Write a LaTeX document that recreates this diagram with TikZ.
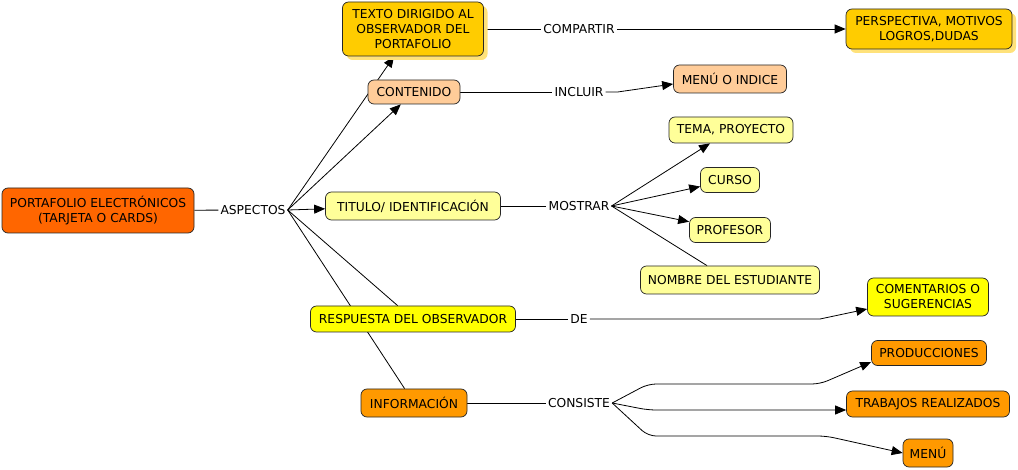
\documentclass[tikz,border=0pt]{standalone}
\usepackage{fontspec}
\setmainfont{DejaVu Sans}
\usetikzlibrary{arrows.meta,shadows,backgrounds}
\definecolor{rojizo}{HTML}{FF6600}
\definecolor{dorado}{HTML}{FFCC00}
\definecolor{durazno}{HTML}{FFCC99}
\definecolor{crema}{HTML}{FFFF99}
\definecolor{amarillo}{HTML}{FFFF00}
\definecolor{naranja}{HTML}{FF9900}
\definecolor{sombra}{HTML}{FFE27A}
\tikzset{
  concepto/.style={draw=black!85, line width=0.7pt, rounded corners=6pt, inner sep=0pt,
    align=center, font=\fontsize{12.3}{15}\selectfont},
  enlace/.style={inner sep=2pt, font=\fontsize{12.3}{15}\selectfont},
  sombreado/.style={drop shadow={fill=sombra, opacity=1, shadow xshift=4pt, shadow yshift=-4pt}},
  flecha/.style={-{Triangle[length=11pt,width=9pt]}, line width=0.8pt},
  linea/.style={line width=0.8pt}
}
\begin{document}
\begin{tikzpicture}[x=1pt,y=-1pt]
\useasboundingbox (0,0) rectangle (1018,470);

\node [concepto, fill=rojizo, minimum width=192pt, minimum height=45pt] (port) at (98,210.5) {PORTAFOLIO ELECTR\'ONICOS\\(TARJETA O CARDS)};
\node [enlace] (aspectos) at (253,210) {ASPECTOS};

\node [concepto, fill=dorado, sombreado, minimum width=141pt, minimum height=54pt] (texto) at (413,29) {TEXTO DIRIGIDO AL\\OBSERVADOR DEL\\PORTAFOLIO};
\node [enlace] (compartir) at (579,29) {COMPARTIR};
\node [concepto, fill=dorado, sombreado, minimum width=166pt, minimum height=40pt] (persp) at (929,29) {PERSPECTIVA, MOTIVOS\\LOGROS,DUDAS};

\node [concepto, fill=durazno, minimum width=92pt, minimum height=24pt] (contenido) at (414,92) {CONTENIDO};
\node [enlace] (incluir) at (579,92) {INCLUIR};
\node [concepto, fill=durazno, minimum width=113pt, minimum height=28pt] (menuind) at (730,79) {MEN\'U O INDICE};

\node [concepto, fill=crema, minimum width=175pt, minimum height=28pt] (titulo) at (413,206) {TITULO/ IDENTIFICACI\'ON};
\node [enlace] (mostrar) at (579,206) {MOSTRAR};
\node [concepto, fill=crema, minimum width=124pt, minimum height=26pt] (tema) at (731,130) {TEMA, PROYECTO};
\node [concepto, fill=crema, minimum width=59pt, minimum height=25pt] (curso) at (730,180) {CURSO};
\node [concepto, fill=crema, minimum width=81pt, minimum height=25pt] (profesor) at (730,230) {PROFESOR};
\node [concepto, fill=crema, minimum width=179pt, minimum height=28pt] (nombre) at (730,280) {NOMBRE DEL ESTUDIANTE};

\node [concepto, fill=amarillo, minimum width=205pt, minimum height=26pt] (respuesta) at (413,319) {RESPUESTA DEL OBSERVADOR};
\node [enlace] (de) at (579,319) {DE};
\node [concepto, fill=amarillo, minimum width=121pt, minimum height=38pt] (coment) at (928,297) {COMENTARIOS O\\SUGERENCIAS};

\node [concepto, fill=naranja, minimum width=106pt, minimum height=28pt] (informacion) at (414,403) {INFORMACI\'ON};
\node [enlace] (consiste) at (579,403) {CONSISTE};
\node [concepto, fill=naranja, minimum width=115pt, minimum height=25pt] (produc) at (929,353) {PRODUCCIONES};
\node [concepto, fill=naranja, minimum width=163pt, minimum height=26pt] (trabajos) at (928,404) {TRABAJOS REALIZADOS};
\node [concepto, fill=naranja, minimum width=50pt, minimum height=28pt] (menu) at (928,453) {MEN\'U};

\begin{pgfonlayer}{background}
\draw [linea] (port) to (aspectos);
\draw [flecha] (aspectos.east) to (texto);
\draw [flecha] (aspectos.east) to (contenido);
\draw [flecha] (aspectos.east) to (titulo);
\draw [linea] (aspectos.east) to (respuesta);
\draw [linea] (aspectos.east) to (informacion);

\draw [linea] (texto) to (compartir);
\draw [flecha] (compartir) to (persp);

\draw [linea] (contenido) to (incluir);
\draw [flecha] (incluir.east) -- ++(12,0) -- ([yshift=-5pt]menuind.west);

\draw [linea] (titulo) to (mostrar);
\draw [flecha] (mostrar.east) to (tema);
\draw [flecha] (mostrar.east) to (curso);
\draw [flecha] (mostrar.east) to (profesor);
\draw [linea] (mostrar.east) to (nombre);

\draw [linea] (respuesta) to (de);
\draw [flecha] (de.east) -- (820,319) -- ([yshift=-12pt]coment.west);

\draw [linea] (informacion) to (consiste);
\draw [flecha, rounded corners=8pt] (consiste.east) -- (648,384) -- (820,384) -- ([yshift=-9pt]produc.west);
\draw [flecha, rounded corners=8pt] (consiste.east) -- (648,410) -- (836,410) -- ([yshift=-6pt]trabajos.west);
\draw [flecha, rounded corners=8pt] (consiste.east) -- (648,436) -- (826,436) -- (menu.west);
\end{pgfonlayer}
\end{tikzpicture}
\end{document}
